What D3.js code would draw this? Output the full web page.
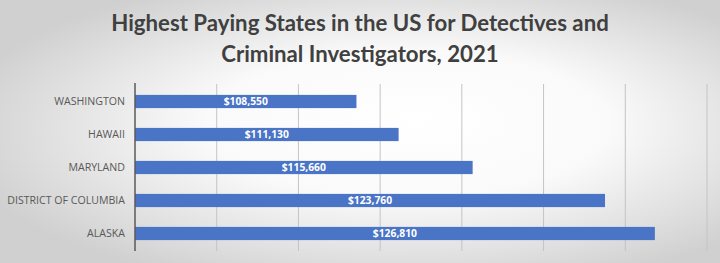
<!DOCTYPE html>
<html><head><meta charset="utf-8">
<script src="https://cdn.jsdelivr.net/npm/d3@7"></script>
<style>html,body{margin:0;padding:0;overflow:hidden;background:#fff}</style>
</head><body>
<svg id="chart" width="720" height="263"></svg>
<script>
const titleLines = ["Highest Paying States in the US for Detectives and", "Criminal Investigators, 2021"];
const categories = ["WASHINGTON", "HAWAII", "MARYLAND", "DISTRICT OF COLUMBIA", "ALASKA"];
const values = [108550, 111130, 115660, 123760, 126810];
const xTicks = [95000, 100000, 105000, 110000, 115000, 120000, 125000, 130000];

const W = 720, H = 263;
const svg = d3.select("#chart");
const defs = svg.append("defs");
const grad = defs.append("radialGradient").attr("id", "bg")
  .attr("cx", "0.55").attr("cy", "0.5").attr("r", "0.62").attr("fx", "0.58").attr("fy", "0.45");
grad.append("stop").attr("offset", "0").attr("stop-color", "#ffffff");
grad.append("stop").attr("offset", "0.45").attr("stop-color", "#fafafa");
grad.append("stop").attr("offset", "1").attr("stop-color", "#d0d0d0");
svg.append("rect").attr("width", W).attr("height", H).attr("fill", "url(#bg)");

const x = d3.scaleLinear().domain([95000, 130000]).range([135, 707]);
const y = d3.scaleBand().domain(categories).range([85, 250]).paddingInner(0.6).paddingOuter(0.3);

// gridlines
svg.append("g").selectAll("line").data(xTicks.slice(1)).join("line")
  .attr("x1", d => x(d)).attr("x2", d => x(d))
  .attr("y1", 84).attr("y2", 251)
  .attr("stroke", "#c4c4c4").attr("stroke-width", 1);

// bars
svg.append("g").selectAll("rect").data(values).join("rect")
  .attr("x", x(95000)).attr("y", (d, i) => y(categories[i]))
  .attr("width", d => x(d) - x(95000)).attr("height", y.bandwidth())
  .attr("fill", "#4a74c5");

// axis line
svg.append("line").attr("x1", x(95000)).attr("x2", x(95000)).attr("y1", 83).attr("y2", 251)
  .attr("stroke", "#5a5a5a").attr("stroke-width", 1.5);

// category labels
svg.append("g").selectAll("text").data(categories).join("text")
  .attr("x", 125).attr("y", d => y(d) + y.bandwidth() / 2)
  .attr("dy", "0.35em").attr("text-anchor", "end")
  .attr("font-family", "'Open Sans', sans-serif").attr("font-size", 10.6)
  .attr("fill", "#595959").text(d => d);

// value labels
const fmt = d3.format("$,");
svg.append("g").selectAll("text").data(values).join("text")
  .attr("x", d => (x(95000) + x(d)) / 2)
  .attr("y", (d, i) => y(categories[i]) + y.bandwidth() / 2)
  .attr("dy", "0.36em").attr("text-anchor", "middle")
  .attr("font-family", "'Open Sans', sans-serif").attr("font-weight", "bold").attr("font-size", 10.3)
  .attr("fill", "#ffffff").text(d => fmt(d));

// title
const t = svg.append("g");
const tl = t.selectAll("text").data(titleLines).join("text")
  .attr("x", 360).attr("y", (d, i) => 31 + i * 31)
  .attr("text-anchor", "middle")
  .attr("font-family", "Lato, sans-serif").attr("font-weight", "bold").attr("font-size", 23)
  .attr("fill", "#404040").text(d => d);
const w0 = tl.nodes()[0].getComputedTextLength();
const fs = 23 * 498 / w0;
tl.attr("font-size", fs);
</script>
</body></html>
